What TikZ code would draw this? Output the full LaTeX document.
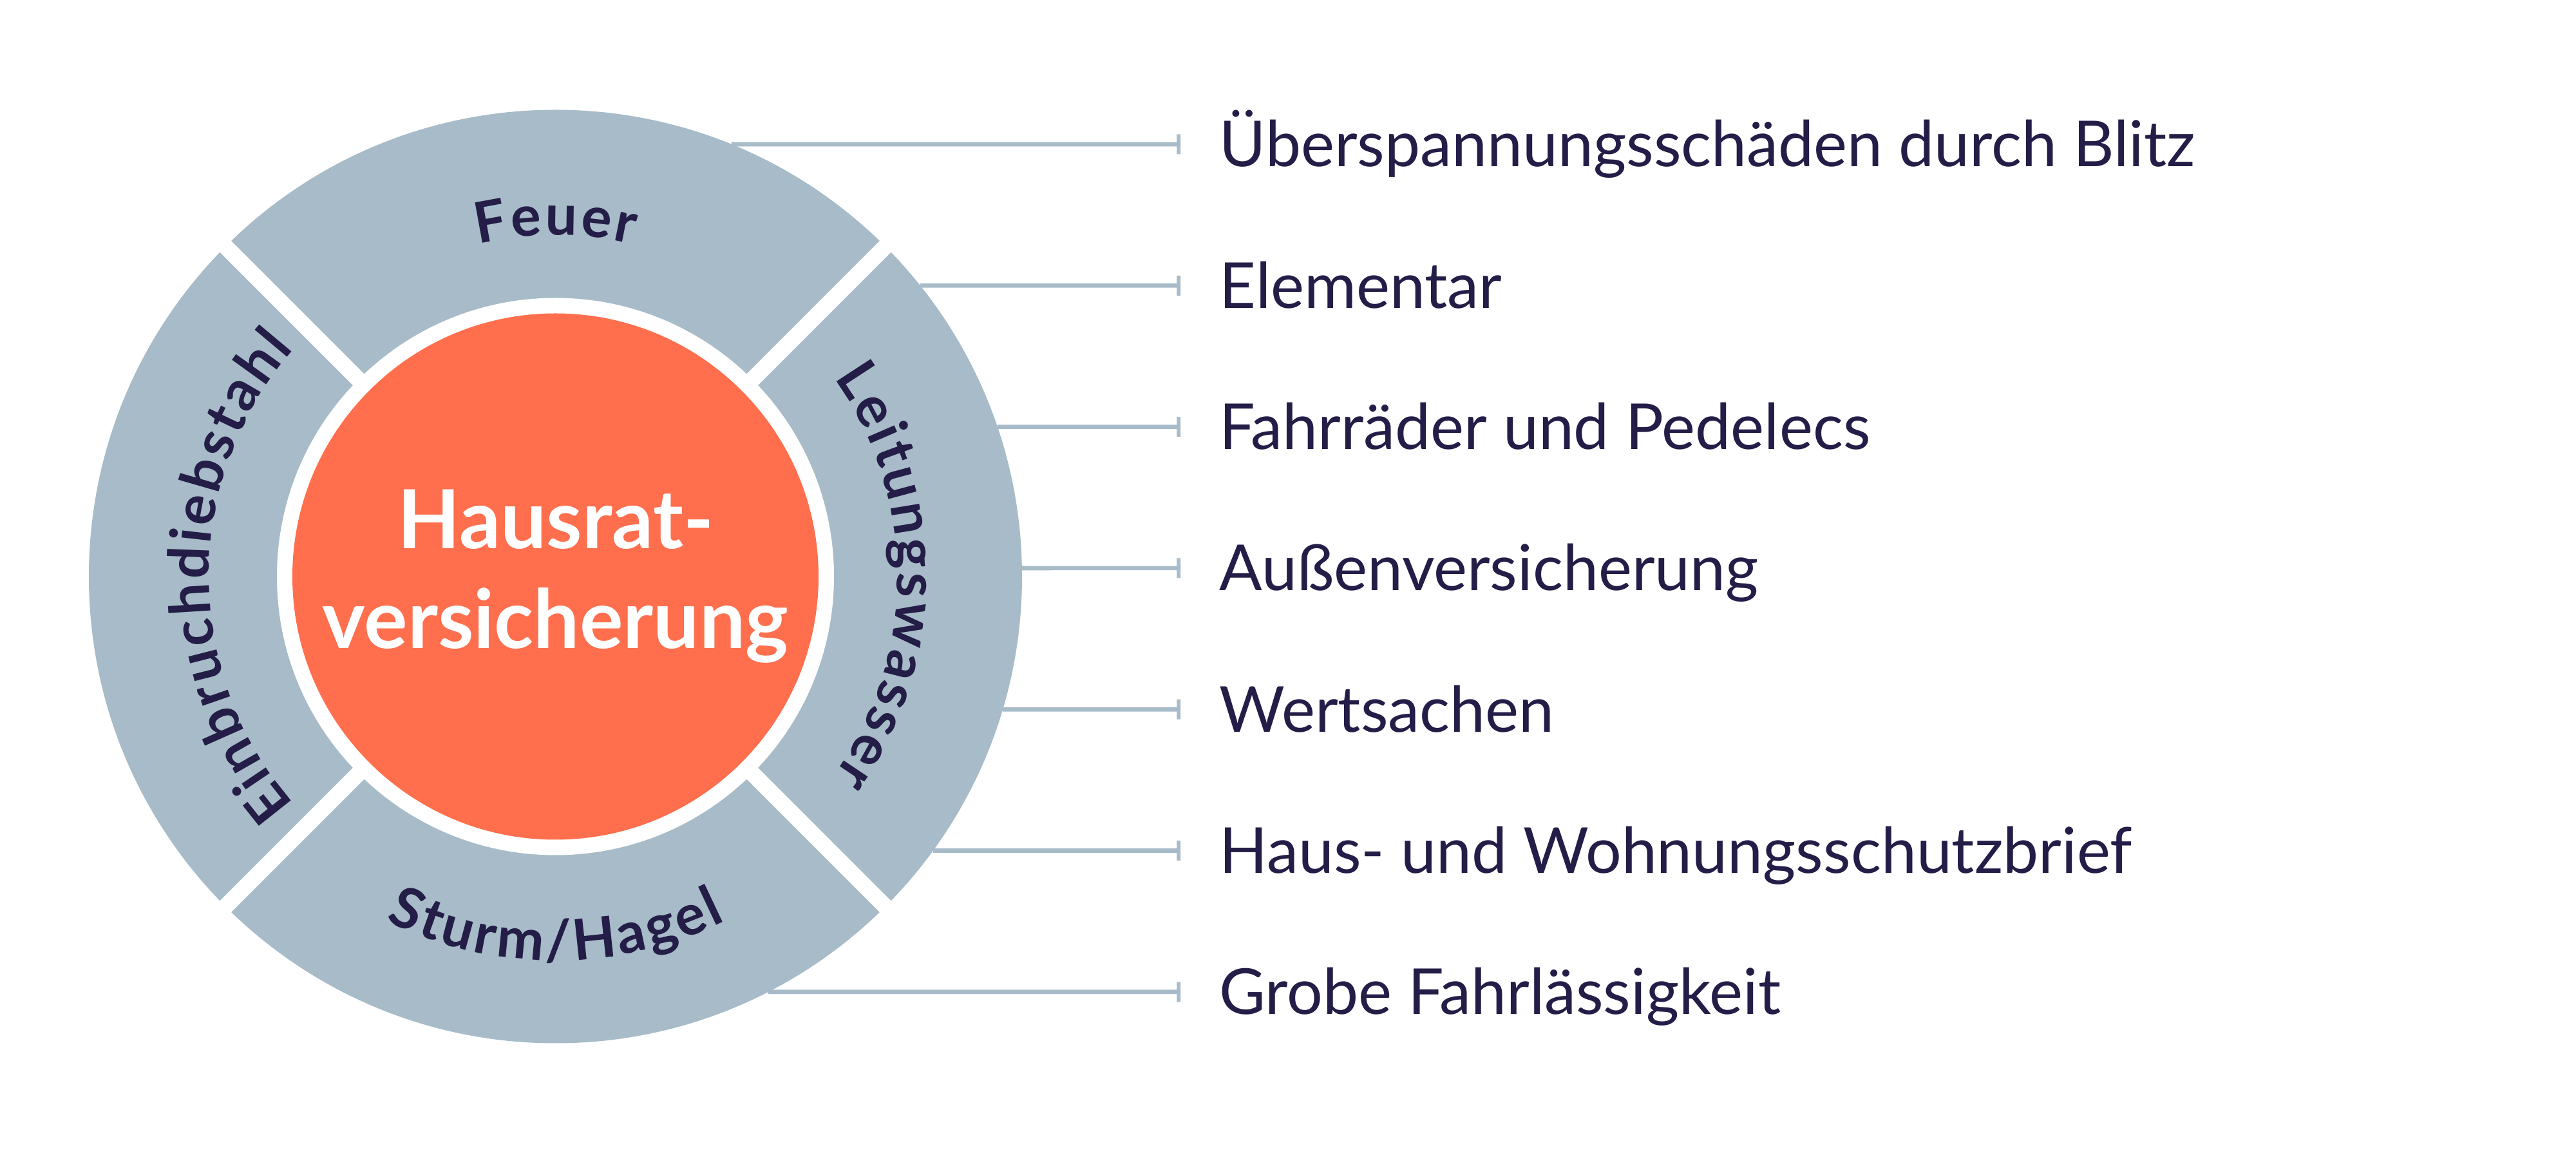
\documentclass[tikz,border=0pt]{standalone}
\usepackage{fontspec}
\setmainfont{Lato}
\usetikzlibrary{calc, positioning}
\usetikzlibrary{arrows.meta}
\usetikzlibrary{decorations.text}

\definecolor{ringgray}{HTML}{A7BBC8}
\definecolor{coreorange}{HTML}{FF6F4D}
\definecolor{inknavy}{HTML}{231D47}

\def\ringfont{\fontsize{25}{25}\selectfont\bfseries}

\tikzset{
  ringlabel/.style={decorate, font=\ringfont,
    decoration={text effects along path, text={#1}, text align=center,
      text effects/.cd, text along path,
      character widths={inner xsep=0.6pt, font=\ringfont},
      characters={font=\ringfont, text=inknavy}}},
  feature/.style={anchor=base west, inner sep=0pt, text=inknavy,
    font=\fontsize{28}{33}\selectfont},
  leader/.style={draw=ringgray, line width=1.9pt,
    -{Bar[width=3.1mm, line width=1.6pt]}},
}

\begin{document}
\begin{tikzpicture}
\useasboundingbox (0,0) rectangle (40,17.92);

\def\Rout{7.245}
\def\Rin{4.325}
\def\Rcore{4.085}
\def\gapw{0.25}
\pgfmathsetmacro{\Dout}{2*\Rout}
\pgfmathsetmacro{\Dcore}{2*\Rcore}
\pgfmathsetmacro{\Rcut}{\Rout+0.1}

\coordinate (C) at (8.625,8.97);

\node[circle, fill=ringgray, minimum size=\Dout cm, inner sep=0pt, outer sep=0pt] (ring) at (C) {};
\fill[white] (C) circle (\Rin);
\draw[white, line width=\gapw cm] ($(C)+(45:\Rcut)$) -- ($(C)+(225:\Rcut)$);
\draw[white, line width=\gapw cm] ($(C)+(135:\Rcut)$) -- ($(C)+(315:\Rcut)$);

\node[circle, fill=coreorange, minimum size=\Dcore cm, inner sep=0pt,
  text=white, align=center, font=\fontsize{36}{44}\selectfont\bfseries] (core) at (C)
  {Hausrat-\\versicherung};

\path[ringlabel={Feuer}] (C) ++(135:5.3) arc[start angle=135, end angle=45, radius=5.3];
\path[ringlabel={Leitungswasser}] (C) ++(45:5.31) arc[start angle=45, end angle=-45, radius=5.31];
\path[ringlabel={Einbruchdiebstahl}] (C) ++(225:5.38) arc[start angle=225, end angle=135, radius=5.38];
\path[ringlabel={Sturm/Hagel}] (C) ++(225:5.96) arc[start angle=225, end angle=315, radius=5.96];

\foreach \txt [count=\i from 0] in {Überspannungsschäden durch Blitz, Elementar,
  Fahrräder und Pedelecs, Außenversicherung, Wertsachen,
  Haus- und Wohnungsschutzbrief, Grobe Fahrlässigkeit}{
  \pgfmathsetmacro{\ly}{15.68-2.193*\i}
  \pgfmathsetmacro{\ang}{asin((\ly-8.97)/\Rout)}
  \coordinate (t\i) at (18.33,\ly);
  \node[feature] (f\i) at ($(t\i)+(0.6,-0.35)$) {\txt};
  \draw[leader] (ring.center) ++(\ang:\Rout) -- (t\i);
}
\end{tikzpicture}
\end{document}
